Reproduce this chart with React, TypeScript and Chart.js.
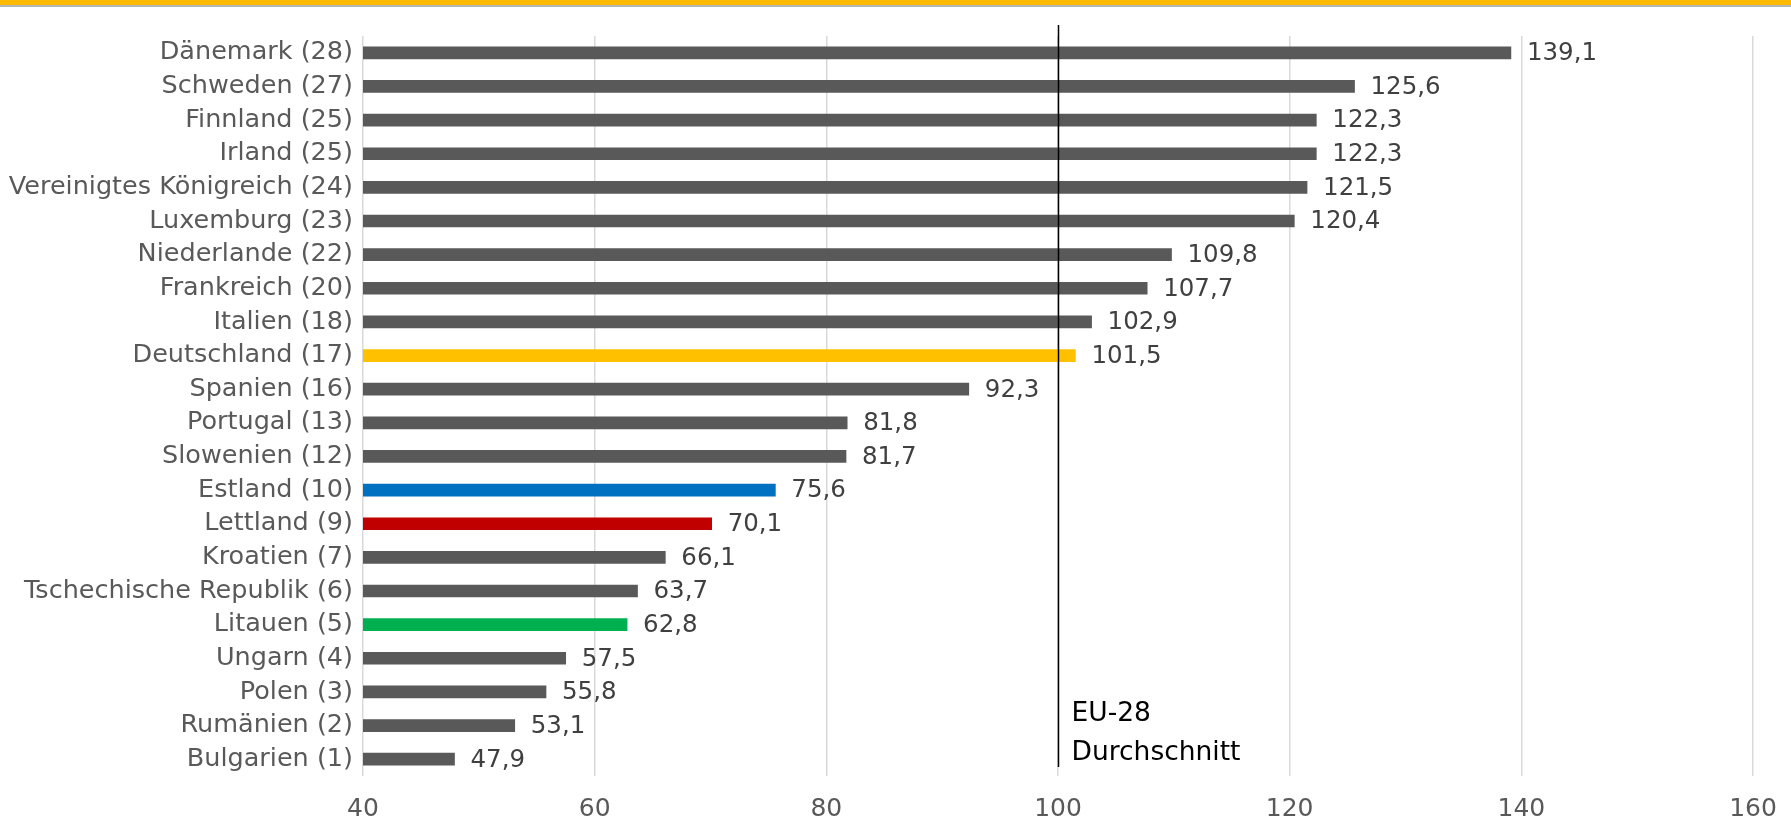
import React, { useEffect, useRef } from "react";
import { Chart, registerables } from "chart.js";

Chart.register(...registerables);

const categories = [
  "Dänemark (28)",
  "Schweden (27)",
  "Finnland (25)",
  "Irland (25)",
  "Vereinigtes Königreich (24)",
  "Luxemburg (23)",
  "Niederlande (22)",
  "Frankreich (20)",
  "Italien (18)",
  "Deutschland (17)",
  "Spanien (16)",
  "Portugal (13)",
  "Slowenien (12)",
  "Estland (10)",
  "Lettland (9)",
  "Kroatien (7)",
  "Tschechische Republik (6)",
  "Litauen (5)",
  "Ungarn (4)",
  "Polen (3)",
  "Rumänien (2)",
  "Bulgarien (1)",
];

const values = [
  139.1, 125.6, 122.3, 122.3, 121.5, 120.4, 109.8, 107.7, 102.9, 101.5, 92.3,
  81.8, 81.7, 75.6, 70.1, 66.1, 63.7, 62.8, 57.5, 55.8, 53.1, 47.9,
];

const highlight: Record<string, string> = {
  "Deutschland (17)": "#FFC000",
  "Estland (10)": "#0070C0",
  "Lettland (9)": "#C00000",
  "Litauen (5)": "#00B050",
};

const euAverage = 100;
const euLabel = ["EU-28", "Durchschnitt"];
const xTicks = [40, 60, 80, 100, 120, 140, 160];

const FONT = "'DejaVu Sans', Verdana, sans-serif";

const overlayPlugin = {
  id: "overlay",
  afterDatasetsDraw(chart: any) {
    const ctx = chart.ctx;
    const meta = chart.getDatasetMeta(0);
    ctx.save();
    ctx.font = `24.5px ${FONT}`;
    ctx.fillStyle = "#404040";
    ctx.textAlign = "left";
    ctx.textBaseline = "middle";
    meta.data.forEach((el: any, i: number) => {
      const txt = values[i].toFixed(1).replace(".", ",");
      ctx.fillText(txt, el.x + 16, el.y + 1);
    });
    const xs = chart.scales.x;
    const px = Math.round(xs.getPixelForValue(euAverage)) + 0.5;
    ctx.strokeStyle = "#000000";
    ctx.lineWidth = 1.5;
    ctx.beginPath();
    ctx.moveTo(px, 25);
    ctx.lineTo(px, 767);
    ctx.stroke();
    ctx.fillStyle = "#000000";
    ctx.font = `26.5px ${FONT}`;
    ctx.textBaseline = "alphabetic";
    ctx.fillText(euLabel[0], px + 13, 721);
    ctx.fillText(euLabel[1], px + 13, 760);
    ctx.restore();
  },
};

export default function App() {
  const ref = useRef<HTMLCanvasElement>(null);
  useEffect(() => {
    if (!ref.current) return;
    const chart = new Chart(ref.current, {
      type: "bar",
      data: {
        labels: categories,
        datasets: [
          {
            data: values,
            backgroundColor: categories.map((c) => highlight[c] || "#595959"),
            barThickness: 12,
            borderWidth: 0,
          },
        ],
      },
      options: {
        indexAxis: "y",
        animation: false,
        responsive: false,
        layout: { padding: { top: 36, right: 38, bottom: 0, left: 0 } },
        plugins: {
          legend: { display: false },
          tooltip: { enabled: false },
        },
        scales: {
          x: {
            min: 40,
            max: 160,
            afterBuildTicks(scale: any) {
              scale.ticks = xTicks.map((v) => ({ value: v }));
            },
            afterFit(scale: any) {
              scale.height = 56;
              scale.paddingLeft = 0;
              scale.paddingRight = 0;
            },
            grid: { color: "#D9D9D9", lineWidth: 1.5, drawTicks: false },
            border: { display: false },
            ticks: {
              padding: 18,
              color: "#595959",
              font: { family: FONT, size: 25 },
            },
          },
          y: {
            afterFit(scale: any) {
              scale.width = 363;
            },
            grid: { display: false, drawTicks: false },
            border: { display: false },
            ticks: {
              padding: 10,
              color: "#595959",
              font: { family: FONT, size: 25.5 },
              autoSkip: false,
            },
          },
        },
      },
      plugins: [overlayPlugin],
    } as any);
    return () => chart.destroy();
  }, []);

  return (
    <div
      style={{
        position: "fixed",
        left: 0,
        top: 0,
        width: 1791,
        height: 832,
        background: "#ffffff",
      }}
    >
      <canvas
        ref={ref}
        width={1791}
        height={832}
        style={{ display: "block", width: 1791, height: 832 }}
      />
      <div
        style={{
          position: "absolute",
          left: 0,
          top: 0,
          width: 1791,
          height: 5,
          background: "#FBBA00",
          borderBottom: "2px solid #B5B5B5",
        }}
      />
    </div>
  );
}
